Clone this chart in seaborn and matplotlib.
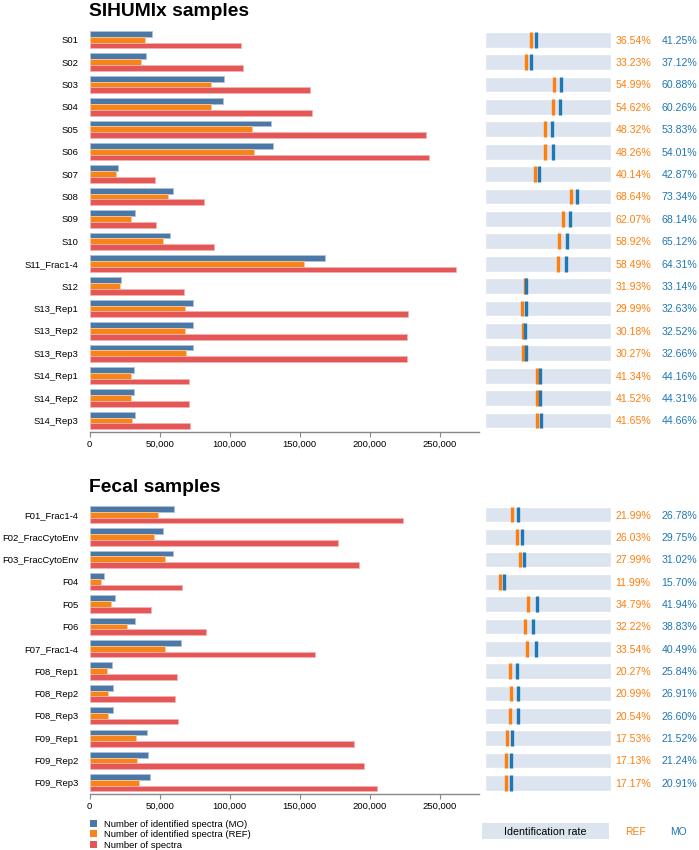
import numpy as np
import pandas as pd
import matplotlib
matplotlib.use("Agg")
import matplotlib.pyplot as plt
import matplotlib.transforms as mtrans
from matplotlib.patches import Rectangle
from matplotlib.colors import to_rgb
import seaborn as sns

# ---------------- data ----------------
sihumix_samples = ["S01", "S02", "S03", "S04", "S05", "S06", "S07", "S08", "S09", "S10",
                   "S11_Frac1-4", "S12", "S13_Rep1", "S13_Rep2", "S13_Rep3",
                   "S14_Rep1", "S14_Rep2", "S14_Rep3"]
sihumix_spectra = [108100, 109200, 157300, 158500, 240400, 242500, 46600, 81400, 47400, 88500,
                   261300, 67600, 227100, 226600, 226300, 71200, 70900, 71900]
sihumix_mo = [44600, 40500, 95800, 95500, 129400, 131000, 20000, 59700, 32300, 57600,
              168000, 22400, 74100, 73700, 73900, 31400, 31400, 32100]
sihumix_ref = [39500, 36300, 86500, 86600, 116200, 117000, 18700, 55900, 29400, 52200,
               152800, 21600, 68100, 68400, 68500, 29400, 29400, 29900]
sihumix_rate_ref = [36.54, 33.23, 54.99, 54.62, 48.32, 48.26, 40.14, 68.64, 62.07, 58.92,
                    58.49, 31.93, 29.99, 30.18, 30.27, 41.34, 41.52, 41.65]
sihumix_rate_mo = [41.25, 37.12, 60.88, 60.26, 53.83, 54.01, 42.87, 73.34, 68.14, 65.12,
                   64.31, 33.14, 32.63, 32.52, 32.66, 44.16, 44.31, 44.66]

fecal_samples = ["F01_Frac1-4", "F02_FracCytoEnv", "F03_FracCytoEnv", "F04", "F05", "F06",
                 "F07_Frac1-4", "F08_Rep1", "F08_Rep2", "F08_Rep3", "F09_Rep1", "F09_Rep2",
                 "F09_Rep3"]
fecal_spectra = [223500, 177300, 192500, 66200, 43600, 82800, 160700, 62100, 61200, 63100,
                 188700, 195600, 204900]
fecal_mo = [59900, 52700, 59700, 10400, 18300, 32200, 65100, 16000, 16500, 16800,
            40600, 41500, 42800]
fecal_ref = [49100, 46200, 53900, 7900, 15200, 26700, 53900, 12600, 12800, 13000,
             33100, 33500, 35200]
fecal_rate_ref = [21.99, 26.03, 27.99, 11.99, 34.79, 32.22, 33.54, 20.27, 20.99, 20.54,
                  17.53, 17.13, 17.17]
fecal_rate_mo = [26.78, 29.75, 31.02, 15.70, 41.94, 38.83, 40.49, 25.84, 26.91, 26.60,
                 21.52, 21.24, 20.91]

series_labels = ["Number of identified spectra (MO)", "Number of identified spectra (REF)",
                 "Number of spectra"]
bar_colors = ["#4c78a8", "#f58518", "#e45756"]
x_ticks = [0, 50000, 100000, 150000, 200000, 250000]
panel_titles = ["SIHUMIx samples", "Fecal samples"]

REF_COLOR = "#ff7f0e"
MO_COLOR = "#1f77b4"
BG_COLOR = "#dbe4ef"
AXIS_COLOR = "#888888"

# ---------------- style ----------------
sns.set_theme(style="white")
plt.rcParams["font.family"] = ["Liberation Sans", "DejaVu Sans"]

W, H = 699, 850
fig = plt.figure(figsize=(W / 100, H / 100), dpi=100)


def rect(x0, y0, x1, y1):
    return [x0 / W, 1 - y1 / H, (x1 - x0) / W, (y1 - y0) / H]


def lighten(c, f=0.55):
    r, g, b = to_rgb(c)
    return (r + (1 - r) * f, g + (1 - g) * f, b + (1 - b) * f)


def panel(samples, spectra, mo, ref, rref, rmo, y_top, y_bot, title, title_base):
    df = pd.DataFrame({"sample": samples, series_labels[0]: mo,
                       series_labels[1]: ref, series_labels[2]: spectra})
    long = df.melt(id_vars="sample", value_vars=series_labels,
                   var_name="series", value_name="value")
    ax = fig.add_axes(rect(89.7, y_top, 479, y_bot))
    sns.barplot(data=long, y="sample", x="value", hue="series", hue_order=series_labels,
                palette=bar_colors, orient="h", errorbar=None, width=0.77,
                saturation=1, legend=False, ax=ax)
    for p in ax.patches:
        p.set_edgecolor(lighten(p.get_facecolor()))
        p.set_linewidth(0.6)
    n = len(samples)
    ax.set_xlim(0, 278000)
    ax.set_ylim(n - 0.5, -0.5)
    ax.set_xticks(x_ticks)
    ax.set_xticklabels([f"{t:,}" for t in x_ticks])
    ax.set_xlabel("")
    ax.set_ylabel("")
    for s in ["top", "right", "left"]:
        ax.spines[s].set_visible(False)
    ax.spines["bottom"].set_color(AXIS_COLOR)
    ax.spines["bottom"].set_linewidth(1)
    ax.tick_params(axis="x", length=3.6, width=0.8, color=AXIS_COLOR, labelsize=6.8,
                   labelcolor="#000000", pad=2.2, bottom=True)
    ax.tick_params(axis="y", length=0, labelsize=6.8, labelcolor="#000000", pad=8.3)

    ax2 = fig.add_axes(rect(484.5, y_top, 610.5, y_bot))
    ys = np.arange(n)
    ax2.barh(ys, [100] * n, height=0.70, color=BG_COLOR, left=0)
    ax2.vlines(rref, ys - 0.35, ys + 0.35, color=REF_COLOR, lw=2.4)
    ax2.vlines(rmo, ys - 0.35, ys + 0.35, color=MO_COLOR, lw=2.4)
    ax2.set_xlim(0, 100)
    ax2.set_ylim(n - 0.5, -0.5)
    ax2.axis("off")
    tr = mtrans.blended_transform_factory(ax2.transAxes, ax2.transData)
    for i in range(n):
        ax2.text(1.038, i, f"{rref[i]:.2f}%", color=REF_COLOR, fontsize=7.6,
                 ha="left", va="center_baseline", transform=tr)
        ax2.text(1.406, i, f"{rmo[i]:.2f}%", color=MO_COLOR, fontsize=7.6,
                 ha="left", va="center_baseline", transform=tr)

    fig.text(89 / W, 1 - title_base / H, title, fontsize=13.9, fontweight="bold",
             ha="left", va="baseline", color="#000000")


panel(sihumix_samples, sihumix_spectra, sihumix_mo, sihumix_ref,
      sihumix_rate_ref, sihumix_rate_mo, 28.5, 431.7, panel_titles[0], 15.8)
panel(fecal_samples, fecal_spectra, fecal_mo, fecal_ref,
      fecal_rate_ref, fecal_rate_mo, 503.5, 794, panel_titles[1], 491.8)

# ---------------- legend ----------------
for lab, col, cy in zip(series_labels, bar_colors, [823.3, 833.5, 844.0]):
    fig.add_artist(Rectangle((90 / W, 1 - (cy + 3.5) / H), 7 / W, 7 / H,
                             transform=fig.transFigure, facecolor=col, edgecolor="none"))
    fig.text(104 / W, 1 - cy / H, lab, fontsize=6.8, ha="left", va="center_baseline",
             color="#000000")

fig.add_artist(Rectangle((481.5 / W, 1 - 839 / H), (609 - 481.5) / W, 16 / H,
                         transform=fig.transFigure, facecolor=BG_COLOR, edgecolor="none"))
fig.text(545.5 / W, 1 - 831 / H, "Identification rate", fontsize=7.7, ha="center",
         va="center_baseline", color="#000000")
fig.text(635 / W, 1 - 831 / H, "REF", fontsize=7.4, ha="center", va="center_baseline",
         color=REF_COLOR)
fig.text(678 / W, 1 - 831 / H, "MO", fontsize=7.4, ha="center", va="center_baseline",
         color=MO_COLOR)

fig.savefig("out.png", dpi=100)
